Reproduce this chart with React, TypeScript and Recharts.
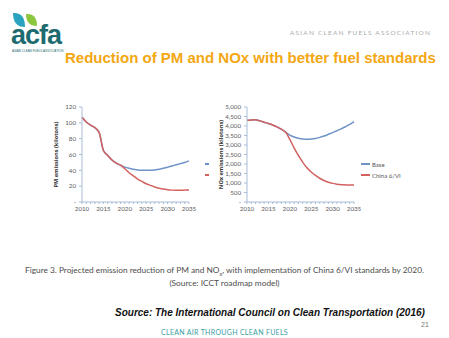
import React from 'react';
import { LineChart, Line, XAxis, YAxis, Legend } from 'recharts';

// Values (kilotons)
const years = [2010, 2011, 2012, 2013, 2014, 2015, 2016, 2017, 2018, 2019, 2020, 2021, 2022,
  2023, 2024, 2025, 2026, 2027, 2028, 2029, 2030, 2031, 2032, 2033, 2034, 2035];
const pmBase = [107, 101, 97, 94, 88, 65, 59, 53, 49, 46.5, 44, 42.5, 41.5, 40.5, 40, 40, 40,
  40.5, 41.5, 42.5, 44, 45.5, 47, 48.5, 50, 52];
const pmChina = [107, 101, 97, 94, 88, 65, 59, 53, 49, 46.5, 42, 37, 33, 29, 26, 23, 21, 19,
  17.5, 16.5, 15.5, 15, 14.8, 14.8, 15, 15.3];
const noxBase = [4300, 4320, 4330, 4270, 4200, 4130, 4050, 3950, 3830, 3680, 3520, 3420, 3350,
  3310, 3300, 3310, 3340, 3400, 3470, 3560, 3650, 3750, 3850, 3960, 4080, 4230];
const noxChina = [4300, 4320, 4330, 4270, 4200, 4130, 4050, 3950, 3830, 3680, 3300, 2850, 2450,
  2100, 1800, 1580, 1400, 1250, 1130, 1040, 980, 940, 910, 900, 895, 900];
const pmTicks = [0, 20, 40, 60, 80, 100, 120];
const noxTicks = [0, 500, 1000, 1500, 2000, 2500, 3000, 3500, 4000, 4500, 5000];
const seriesNames = ['Base', 'China 6/VI'];

const BLUE = '#6f93c8';
const RED = '#d2625f';
const AXIS = '#a9bcd6';
const TICK_TEXT = { fontSize: 6.2, fill: '#5a5a5a', fontFamily: 'Lato, "Open Sans", sans-serif' };

const pmData = years.map((year, i) => ({ year, base: pmBase[i], china: pmChina[i] }));
const noxData = years.map((year, i) => ({ year, base: noxBase[i], china: noxChina[i] }));

const LegendBox = ({ showText }: { showText: boolean }) => (
  <div style={{ fontFamily: 'Lato, "Open Sans", sans-serif', fontSize: 6, color: '#555' }}>
    {[BLUE, RED].map((color, i) => (
      <div key={i} style={{ display: 'flex', alignItems: 'center', height: 11 }}>
        <div style={{ width: showText ? 9 : 4, height: 1.5, background: color }} />
        {showText && <span style={{ marginLeft: 2, whiteSpace: 'nowrap' }}>{seriesNames[i]}</span>}
      </div>
    ))}
  </div>
);

interface ChartProps {
  data: { year: number; base: number; china: number }[];
  yMax: number;
  yTicks: number[];
  yLabel: string;
  width: number;
  marginRight: number;
  showLegendText: boolean;
  legendLeft: number;
}

const EmissionChart = ({ data, yMax, yTicks, yLabel, width, marginRight, showLegendText, legendLeft }: ChartProps) => (
  <LineChart width={width} height={140} data={data} margin={{ top: 7, right: marginRight, bottom: 0, left: 0 }}>
    <XAxis
      dataKey="year"
      type="number"
      domain={[2010, 2035]}
      ticks={years}
      interval={0}
      tickFormatter={(v: number) => (v % 5 === 0 ? String(v) : '')}
      height={16}
      stroke={AXIS}
      tickSize={2}
      tickMargin={3}
      tick={TICK_TEXT}
    />
    <YAxis
      domain={[0, yMax]}
      ticks={yTicks}
      interval={0}
      width={32}
      stroke={AXIS}
      tickSize={3}
      tickMargin={3}
      tick={TICK_TEXT}
      tickFormatter={(v: number) => (v === 0 ? '-' : v.toLocaleString('en-US'))}
      label={{
        value: yLabel,
        angle: -90,
        position: 'insideLeft',
        offset: 6,
        style: { fontSize: 5.6, fontWeight: 700, fill: '#333', textAnchor: 'middle', fontFamily: '"Open Sans", sans-serif' },
      }}
    />
    <Legend
      content={() => <LegendBox showText={showLegendText} />}
      wrapperStyle={{ position: 'absolute', left: legendLeft, top: 58.5, width: 50 }}
    />
    <Line dataKey="base" name="Base" type="monotone" stroke={BLUE} strokeWidth={1.5} dot={false} isAnimationActive={false} />
    <Line dataKey="china" name="China 6/VI" type="monotone" stroke={RED} strokeWidth={1.5} dot={false} isAnimationActive={false} />
  </LineChart>
);

const abs = (left: number, top: number, extra: React.CSSProperties = {}): React.CSSProperties => ({
  position: 'absolute',
  left,
  top,
  lineHeight: 1,
  whiteSpace: 'nowrap',
  ...extra,
});

export default function App() {
  return (
    <div
      style={{
        position: 'fixed',
        left: 0,
        top: 0,
        width: 449,
        height: 338,
        background: '#fff',
        overflow: 'hidden',
        fontFamily: '"Liberation Sans", Arial, sans-serif',
      }}
    >
      {/* logo */}
      <svg style={{ position: 'absolute', left: 10, top: 10 }} width={66} height={42}>
        <path d="M3 3 Q15 2 15 17 Q3 17 3 3 Z" fill="#2aa3be" />
        <path d="M16 4 Q27 3 27 16 Q16 16 16 4 Z" fill="#8cc63f" />
        <text x={1} y={34} fontSize={27} fontWeight={700} fill="#1d6b6f" letterSpacing={-1}>
          acfa
        </text>
      </svg>
      <div style={abs(12, 50, { fontSize: 3, color: '#1d6b6f' })}>ASIAN CLEAN FUELS ASSOCIATION</div>
      <div style={abs(290, 30, { fontSize: 6.5, letterSpacing: 1.2, color: '#ababab', fontFamily: 'Lato, sans-serif' })}>
        ASIAN CLEAN FUELS ASSOCIATION
      </div>
      <div style={abs(65, 50, { fontSize: 15, fontWeight: 700, color: '#f3a712' })}>
        Reduction of PM and NOx with better fuel standards
      </div>

      {/* charts */}
      <div style={{ position: 'absolute', left: 50, top: 100 }}>
        <EmissionChart
          data={pmData}
          yMax={120}
          yTicks={pmTicks}
          yLabel="PM emissions (kilotons)"
          width={162}
          marginRight={23}
          showLegendText={false}
          legendLeft={155}
        />
      </div>
      <div style={{ position: 'absolute', left: 215, top: 100 }}>
        <EmissionChart
          data={noxData}
          yMax={5000}
          yTicks={noxTicks}
          yLabel="NOx emissions (kilotons)"
          width={195}
          marginRight={56}
          showLegendText={true}
          legendLeft={146}
        />
      </div>

      {/* caption and footer */}
      <div style={abs(0, 266, { width: 449, textAlign: 'center', fontSize: 8.3, color: '#4d4d4d', fontFamily: 'Lato, sans-serif' })}>
        Figure 3. Projected emission reduction of PM and NO<sub style={{ fontSize: 5.5, lineHeight: 0 }}>x</sub>, with
        implementation of China 6/VI standards by 2020.
      </div>
      <div style={abs(0, 279, { width: 449, textAlign: 'center', fontSize: 8.3, color: '#4d4d4d', fontFamily: 'Lato, sans-serif' })}>
        (Source: ICCT roadmap model)
      </div>
      <div style={abs(115, 308, { fontSize: 10, fontWeight: 700, fontStyle: 'italic', color: '#111' })}>
        Source: The International Council on Clean Transportation (2016)
      </div>
      <div style={abs(421, 321, { fontSize: 7, color: '#777' })}>21</div>
      <div style={abs(0, 329, { width: 449, textAlign: 'center', fontSize: 7, color: '#3a9ea5', letterSpacing: 0.3, fontFamily: 'Lato, sans-serif' })}>
        CLEAN AIR THROUGH CLEAN FUELS
      </div>
    </div>
  );
}
